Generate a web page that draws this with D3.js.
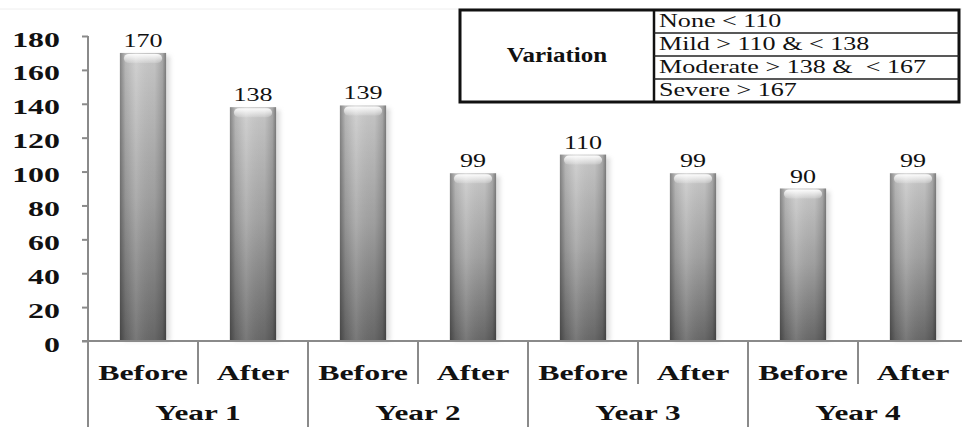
<!DOCTYPE html>
<html>
<head>
<meta charset="utf-8">
<script src="https://cdn.jsdelivr.net/npm/d3@7"></script>
<style>
  body { margin: 0; background: #fff; }
</style>
</head>
<body>
<div id="chart"></div>
<script>
// Chart data
const years = ["Year 1", "Year 2", "Year 3", "Year 4"];
const phases = ["Before", "After"];
const beforeValues = [170, 139, 110, 90];
const afterValues = [138, 99, 99, 99];
const yTicks = [0, 20, 40, 60, 80, 100, 120, 140, 160, 180];
const variationTitle = "Variation";
const variationRows = ["None < 110", "Mild > 110 & < 138", "Moderate > 138 &  < 167", "Severe > 167"];

const width = 962, height = 427;
const axisX = 88, baseY = 341, topY = 36;
const sx = 1.45; // the source picture is stretched sideways
const serif = "'Liberation Serif', 'Times New Roman', Times, Tinos, 'Nimbus Roman', 'Nimbus Roman No9 L', FreeSerif, 'Noto Serif', 'DejaVu Serif', serif";

const svg = d3.select("#chart").append("svg")
    .attr("width", width)
    .attr("height", height)
    .attr("font-family", serif);

const defs = svg.append("defs");

// vertical shade: light top, dark bottom
const gV = defs.append("linearGradient").attr("id", "barV")
    .attr("x1", 0).attr("y1", 0).attr("x2", 0).attr("y2", 1);
gV.append("stop").attr("offset", "0%").attr("stop-color", "#cdcdcd");
gV.append("stop").attr("offset", "50%").attr("stop-color", "#a4a4a4");
gV.append("stop").attr("offset", "100%").attr("stop-color", "#6a6a6a");

// horizontal shade: darker edges for the cylinder look
const gH = defs.append("linearGradient").attr("id", "barH")
    .attr("x1", 0).attr("y1", 0).attr("x2", 1).attr("y2", 0);
[["0%", "#000", 0.35], ["12%", "#000", 0.1], ["35%", "#fff", 0.1],
 ["75%", "#000", 0.04], ["92%", "#000", 0.18], ["100%", "#000", 0.4]]
    .forEach(s => gH.append("stop").attr("offset", s[0])
        .attr("stop-color", s[1]).attr("stop-opacity", s[2]));

// top highlight
const gT = defs.append("linearGradient").attr("id", "barTop")
    .attr("x1", 0).attr("y1", 0).attr("x2", 0).attr("y2", 1);
gT.append("stop").attr("offset", "0%").attr("stop-color", "#fff").attr("stop-opacity", 0.95);
gT.append("stop").attr("offset", "100%").attr("stop-color", "#fff").attr("stop-opacity", 0.15);

defs.append("filter").attr("id", "blur")
    .append("feGaussianBlur").attr("stdDeviation", 2);

// Scales
const x0 = d3.scaleBand()
    .domain(years)
    .range([axisX, axisX + 880]);

const x1 = d3.scaleBand()
    .domain(phases)
    .range([0, x0.bandwidth()])
    .paddingInner(0.58)
    .paddingOuter(0.29);

const y = d3.scaleLinear()
    .domain([0, 180])
    .range([baseY, topY]);

// faint frame line at the top
svg.append("line")
    .attr("x1", 0).attr("x2", width)
    .attr("y1", 9).attr("y2", 9)
    .attr("stroke", "#eee");

// Y axis
const yAxis = d3.axisLeft(y)
    .tickValues(yTicks)
    .tickSizeInner(6)
    .tickSizeOuter(0)
    .tickPadding(22);

const yG = svg.append("g")
    .attr("transform", `translate(${axisX},0)`)
    .call(yAxis)
    .attr("font-family", serif)
    .attr("font-size", 22);
yG.select(".domain").remove();
yG.selectAll(".tick line").attr("stroke", "#8a8a8a").attr("stroke-width", 2);
yG.selectAll(".tick text")
    .attr("x", -28 / sx)
    .attr("dy", 10)
    .attr("transform", `scale(${sx},1)`)
    .attr("font-weight", "bold")
    .attr("fill", "#111");

// bar records built from the arrays
const bars = [];
years.forEach((yr, i) => {
    bars.push({year: yr, phase: "Before", value: beforeValues[i]});
    bars.push({year: yr, phase: "After", value: afterValues[i]});
});

const barG = svg.append("g");
const bar = barG.selectAll(".bar")
    .data(bars)
    .enter()
    .append("g")
    .attr("class", "bar")
    .attr("transform", d => `translate(${x0(d.year) + x1(d.phase)},0)`);

// soft shadow at the right
bar.append("rect")
    .attr("x", 4)
    .attr("y", d => y(d.value) + 3)
    .attr("width", x1.bandwidth())
    .attr("height", d => baseY - y(d.value) - 3)
    .attr("fill", "#bbb")
    .attr("opacity", 0.5)
    .attr("filter", "url(#blur)");

bar.append("rect")
    .attr("y", d => y(d.value))
    .attr("width", x1.bandwidth())
    .attr("height", d => baseY - y(d.value))
    .attr("fill", "url(#barV)");

bar.append("rect")
    .attr("y", d => y(d.value))
    .attr("width", x1.bandwidth())
    .attr("height", d => baseY - y(d.value))
    .attr("fill", "url(#barH)");

bar.append("rect")
    .attr("x", 4)
    .attr("y", d => y(d.value) + 1)
    .attr("width", x1.bandwidth() - 8)
    .attr("height", 9)
    .attr("rx", 5)
    .attr("fill", "url(#barTop)");

// value labels
bar.append("g")
    .attr("transform", d => `translate(${x1.bandwidth() / 2},${y(d.value) - 6}) scale(${sx},1)`)
    .append("text")
    .attr("text-anchor", "middle")
    .attr("font-size", 18)
    .attr("fill", "#111")
    .text(d => d.value);

// X axis lines
const axisG = svg.append("g")
    .attr("stroke", "#8a8a8a")
    .attr("stroke-width", 2);

axisG.append("line")
    .attr("x1", axisX - 6).attr("x2", width)
    .attr("y1", baseY).attr("y2", baseY);

axisG.append("line")
    .attr("x1", axisX).attr("x2", axisX)
    .attr("y1", y(180)).attr("y2", height);

years.forEach((yr, i) => {
    // divider between Before and After
    axisG.append("line")
        .attr("x1", x0(yr) + x1.step()).attr("x2", x0(yr) + x1.step())
        .attr("y1", baseY).attr("y2", 384);
    // divider between years
    if (i > 0) {
        axisG.append("line")
            .attr("x1", x0(yr)).attr("x2", x0(yr))
            .attr("y1", baseY).attr("y2", height);
    }
});

// category labels
bar.append("g")
    .attr("transform", d => `translate(${x1.bandwidth() / 2},380) scale(${sx},1)`)
    .append("text")
    .attr("text-anchor", "middle")
    .attr("font-size", 22)
    .attr("font-weight", "bold")
    .attr("fill", "#111")
    .text(d => d.phase);

svg.append("g").selectAll(".year")
    .data(years)
    .enter()
    .append("g")
    .attr("class", "year")
    .attr("transform", d => `translate(${x0(d) + x0.bandwidth() / 2},420) scale(1.42,1)`)
    .append("text")
    .attr("text-anchor", "middle")
    .attr("font-size", 22)
    .attr("font-weight", "bold")
    .attr("fill", "#111")
    .text(d => d);

// Variation table
const tbl = {left: 460, right: 959, top: 10, bottom: 102, split: 654};
const rowH = (tbl.bottom - tbl.top) / variationRows.length;
const tableG = svg.append("g");

tableG.append("rect")
    .attr("x", tbl.left).attr("y", tbl.top)
    .attr("width", tbl.right - tbl.left)
    .attr("height", tbl.bottom - tbl.top)
    .attr("fill", "#fff")
    .attr("stroke", "#111")
    .attr("stroke-width", 3);

tableG.append("line")
    .attr("x1", tbl.split).attr("x2", tbl.split)
    .attr("y1", tbl.top).attr("y2", tbl.bottom)
    .attr("stroke", "#111")
    .attr("stroke-width", 2.5);

variationRows.forEach((r, i) => {
    if (i > 0) {
        tableG.append("line")
            .attr("x1", tbl.split).attr("x2", tbl.right)
            .attr("y1", tbl.top + i * rowH).attr("y2", tbl.top + i * rowH)
            .attr("stroke", "#222")
            .attr("stroke-width", 1.5);
    }
    tableG.append("g")
        .attr("transform", `translate(${tbl.split + 5},${tbl.top + (i + 1) * rowH - 6}) scale(1.45,1)`)
        .append("text")
        .attr("font-size", 18)
        .attr("fill", "#111")
        .style("white-space", "pre")
        .text(r);
});

tableG.append("g")
    .attr("transform", `translate(${(tbl.left + tbl.split) / 2},62) scale(1.25,1)`)
    .append("text")
    .attr("text-anchor", "middle")
    .attr("font-size", 20)
    .attr("font-weight", "bold")
    .attr("fill", "#111")
    .text(variationTitle);
</script>
</body>
</html>
